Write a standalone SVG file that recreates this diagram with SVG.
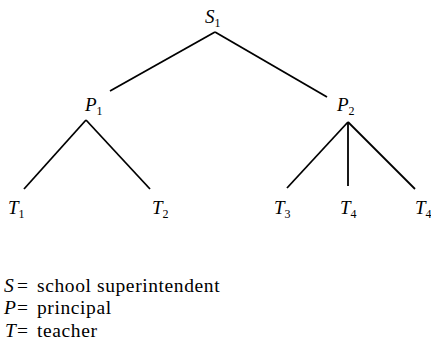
<svg xmlns="http://www.w3.org/2000/svg" width="431" height="346" viewBox="0 0 431 346">
<style>
text{font-family:"Liberation Serif","Times New Roman",serif;fill:#000}
.n{font-size:19px;font-style:italic}
.s{font-size:12px;font-style:normal}
.l{font-size:19.5px}
.w{letter-spacing:0.6px}
.i{font-style:italic}
line{stroke:#000;stroke-width:1.8;stroke-linecap:butt}
</style>
<rect width="431" height="346" fill="#fff"/>
<g id="connectors">
<line x1="215" y1="32" x2="110" y2="91"/>
<line x1="215" y1="32" x2="327" y2="97"/>
<line x1="86" y1="120" x2="24" y2="189"/>
<line x1="86" y1="120" x2="150" y2="189"/>
<line x1="348" y1="122" x2="287" y2="188"/>
<line x1="348" y1="122" x2="348" y2="186"/>
<line x1="348" y1="122" x2="415" y2="189"/>
</g>
<g id="S1"><text class="n" x="205" y="23">S<tspan class="s" dy="4">1</tspan></text></g>
<g id="P1"><text class="n" x="85" y="111">P<tspan class="s" dy="4">1</tspan></text></g>
<g id="P2"><text class="n" x="337" y="111">P<tspan class="s" dy="4">2</tspan></text></g>
<g id="T1"><text class="n" x="8" y="214">T<tspan class="s" dy="4">1</tspan></text></g>
<g id="T2"><text class="n" x="152" y="214">T<tspan class="s" dy="4">2</tspan></text></g>
<g id="T3"><text class="n" x="274" y="214">T<tspan class="s" dy="4">3</tspan></text></g>
<g id="T4a"><text class="n" x="340" y="214">T<tspan class="s" dy="4">4</tspan></text></g>
<g id="T4b"><text class="n" x="415" y="214">T<tspan class="s" dy="4">4</tspan></text></g>
<g id="legend">
<text class="l" x="4" y="292"><tspan class="i">S</tspan><tspan x="17">=</tspan><tspan class="w" x="37">school superintendent</tspan></text>
<text class="l" x="4" y="314"><tspan class="i">P</tspan><tspan x="17">=</tspan><tspan class="w" x="37">principal</tspan></text>
<text class="l" x="5" y="337"><tspan class="i">T</tspan><tspan x="17">=</tspan><tspan class="w" x="37">teacher</tspan></text>
</g>
</svg>
